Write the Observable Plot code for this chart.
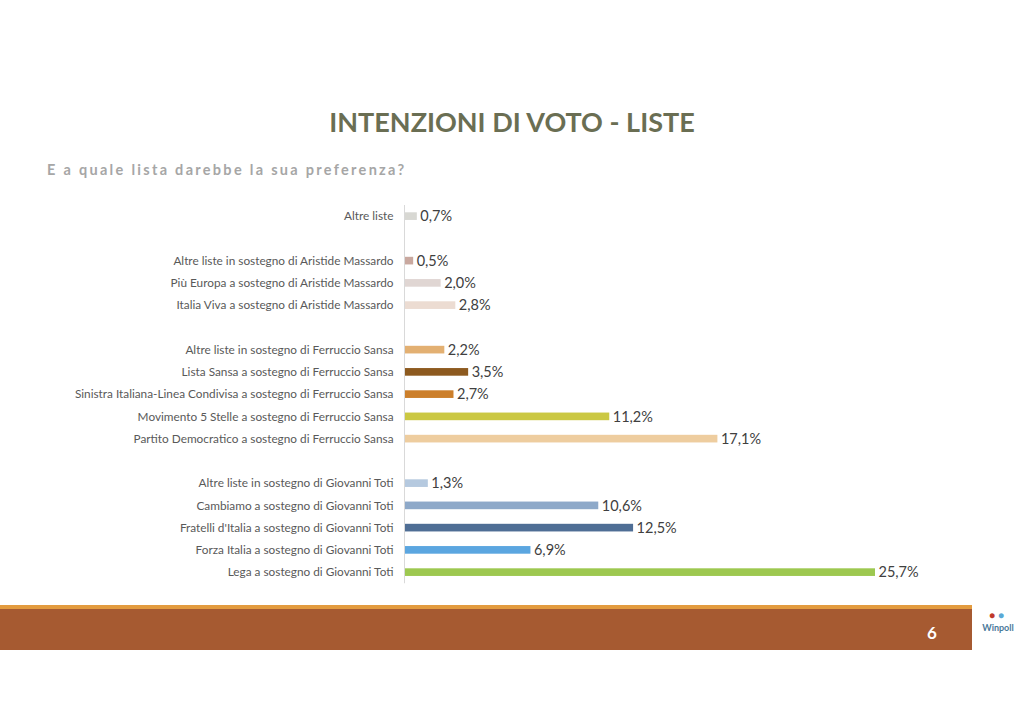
<!DOCTYPE html>
<html>
<head>
<meta charset="utf-8">
<script src="https://cdn.jsdelivr.net/npm/d3@7"></script>
<script src="https://cdn.jsdelivr.net/npm/@observablehq/plot@0.6"></script>
<style>
  html, body { margin: 0; padding: 0; background: #fff; }
  #page { position: relative; width: 1024px; height: 724px; overflow: hidden; font-family: Lato, "Open Sans", sans-serif; }
  #title { position: absolute; left: 0; width: 1024px; top: 104px; text-align: center; font-size: 27px; font-weight: 700; color: #6a6e53; line-height: 36px; }
  #subtitle { position: absolute; left: 47px; top: 160px; font-size: 14.5px; font-weight: 700; color: #a6a6a6; letter-spacing: 2.3px; line-height: 20px; }
  #chart { position: absolute; left: 0; top: 194px; }
  #orange { position: absolute; left: 0; top: 605px; width: 972px; height: 4px; background: #e39b3f; }
  #band { position: absolute; left: 0; top: 609px; width: 972px; height: 41px; background: #a65a31; }
  #pagenum { position: absolute; left: 920px; top: 620px; width: 24px; text-align: center; color: #fff; font-weight: 700; font-size: 17px; line-height: 26px; }
  #logo { position: absolute; left: 974px; top: 608px; width: 48px; height: 42px; text-align: center; }
  #logo .dots { font-size: 10px; line-height: 14px; letter-spacing: 3px; }
  #logo .name { font-size: 9px; line-height: 12px; color: #4a7a9a; font-weight: 700; }
</style>
</head>
<body>
<div id="page">
  <div id="title">INTENZIONI DI VOTO - LISTE</div>
  <div id="subtitle">E a quale lista darebbe la sua preferenza?</div>
  <div id="chart"></div>
  <div id="orange"></div>
  <div id="band"></div>
  <div id="pagenum">6</div>
  <div id="logo"><div class="dots"><span style="color:#c0392b">●</span><span style="color:#5aa9d6">●</span></div><div class="name">Winpoll</div></div>
</div>
<script>
const labels = [
  "Altre liste",
  "Altre liste in sostegno di Aristide Massardo",
  "Più Europa a sostegno di Aristide Massardo",
  "Italia Viva a sostegno di Aristide Massardo",
  "Altre liste in sostegno di Ferruccio Sansa",
  "Lista Sansa a sostegno di Ferruccio Sansa",
  "Sinistra Italiana-Linea Condivisa a sostegno di Ferruccio Sansa",
  "Movimento 5 Stelle a sostegno di Ferruccio Sansa",
  "Partito Democratico a sostegno di Ferruccio Sansa",
  "Altre liste in sostegno di Giovanni Toti",
  "Cambiamo a sostegno di Giovanni Toti",
  "Fratelli d'Italia a sostegno di Giovanni Toti",
  "Forza Italia a sostegno di Giovanni Toti",
  "Lega a sostegno di Giovanni Toti"
];
const values = [0.7, 0.5, 2.0, 2.8, 2.2, 3.5, 2.7, 11.2, 17.1, 1.3, 10.6, 12.5, 6.9, 25.7];
const colors = ["#d8d8d3", "#c9a89f", "#e0d6d3", "#ecdcd2", "#e3b072", "#8d5a1f", "#cc7f2b", "#cbc843", "#eecd9f", "#b5c9df", "#8ea9c9", "#4f6e95", "#5ba6e0", "#9dc850"];
// group sizes (gaps inserted between groups)
const groupSizes = [1, 3, 5, 5];

const data = labels.map((label, i) => ({label, value: values[i], color: colors[i]}));
const domain = [];
let k = 0;
groupSizes.forEach((n, g) => {
  if (g > 0) domain.push("gap" + g);
  for (let j = 0; j < n; j++) domain.push(labels[k++]);
});

const step = 22.25;
const marginTop = 11;
const marginBottom = 6;
const chart = Plot.plot({
  width: 1024,
  height: marginTop + marginBottom + step * domain.length,
  marginLeft: 404,
  marginRight: 149,
  marginTop,
  marginBottom,
  style: {fontFamily: "Lato, 'Open Sans', sans-serif", fontSize: "11.8px", color: "#595959", background: "transparent"},
  x: {domain: [0, 25.7], axis: null},
  y: {domain, padding: 0, round: false, label: null},
  marks: [
    Plot.axisY({tickSize: 0, tickPadding: 11, tickFormat: d => d.startsWith("gap") ? "" : d, fontSize: 11.8, label: null}),
    Plot.barX(data, {x: "value", y: "label", fill: "color", insetTop: 7.3, insetBottom: 7.3}),
    Plot.ruleX([0], {stroke: "#d9d9d9", strokeWidth: 1}),
    Plot.text(data, {x: "value", y: "label", text: d => d.value.toFixed(1).replace(".", ",") + "%", textAnchor: "start", dx: 3, fill: "#404040", fontSize: 14.5})
  ]
});
document.getElementById("chart").appendChild(chart);
</script>
</body>
</html>
